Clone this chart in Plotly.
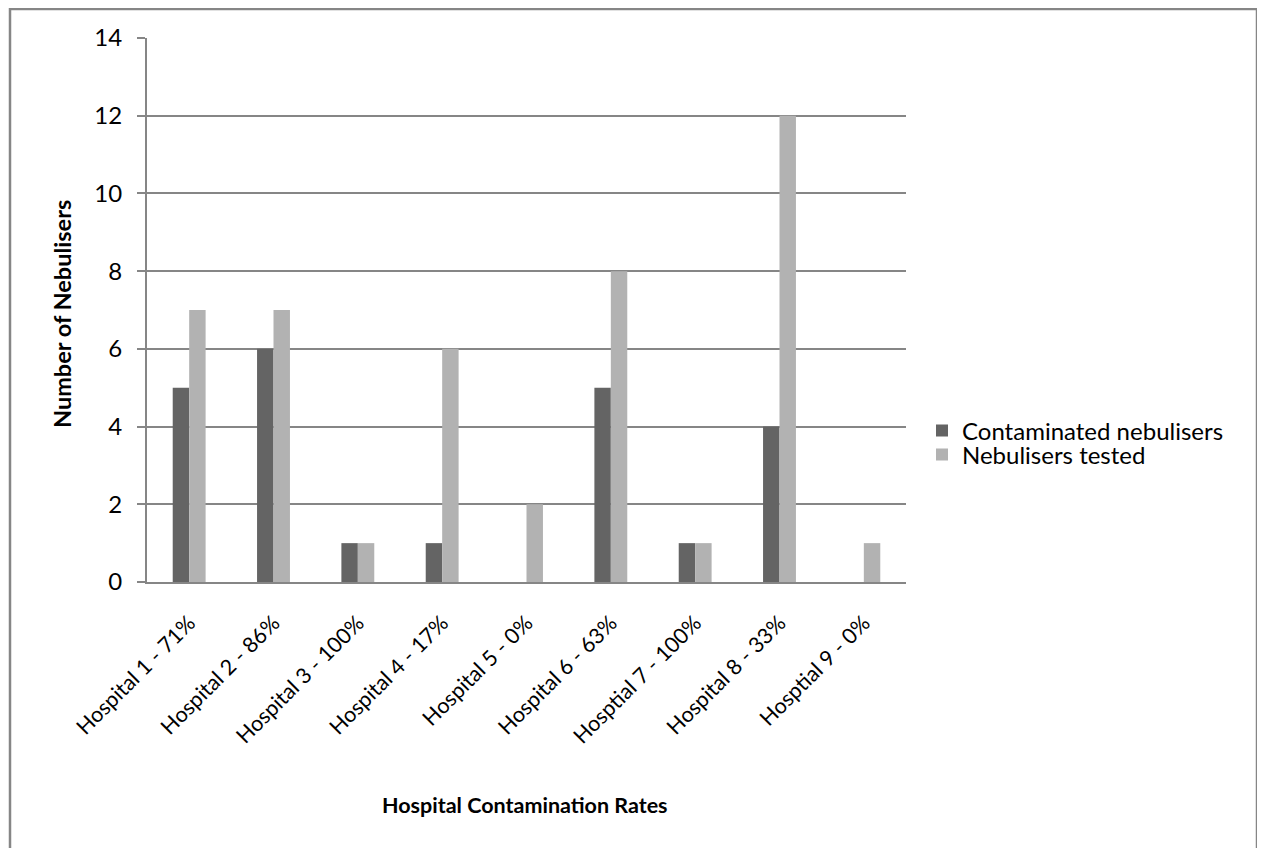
import plotly.graph_objects as go

categories = ["Hospital 1 - 71%", "Hospital 2 - 86%", "Hospital 3 - 100%", "Hospital 4 - 17%",
              "Hospital 5 - 0%", "Hospital 6 - 63%", "Hosptial 7 - 100%", "Hospital 8 - 33%",
              "Hosptial 9 - 0%"]
contaminated = [5, 6, 1, 1, 0, 5, 1, 4, 0]
tested = [7, 7, 1, 6, 2, 8, 1, 12, 1]
y_ticks = [0, 2, 4, 6, 8, 10, 12, 14]

FONT = "Lato"
OFF = 8  # page body margin
W, H = 1265 - OFF, 848 - OFF
# plot area in page pixels
L, R, T, B = 147, 906, 38, 582
pw, ph = R - L, B - T

def px(x):
    return (x - L) / pw

def py(y):
    return (B - y) / ph

fig = go.Figure()
fig.add_trace(go.Bar(name="Contaminated nebulisers", x=categories, y=contaminated,
                     marker=dict(color="#646464", line=dict(width=0)), legend="legend"))
fig.add_trace(go.Bar(name="Nebulisers tested", x=categories, y=tested,
                     marker=dict(color="#b2b2b2", line=dict(width=0)), legend="legend2"))

leg_common = dict(xanchor="left", yanchor="middle", font=dict(family=FONT, size=24, color="black"),
                  itemwidth=30, bgcolor="rgba(0,0,0,0)")

fig.update_layout(
    width=W, height=H,
    margin=dict(l=L - OFF, r=W + OFF - R, t=T - OFF, b=H + OFF - B),
    paper_bgcolor="white", plot_bgcolor="white",
    barmode="group", bargap=0.61, bargroupgap=0,
    font=dict(family=FONT, size=22, color="black"),
    showlegend=True,
    legend=dict(x=px(922), y=py(431), **leg_common),
    legend2=dict(x=px(922), y=py(455), **leg_common),
    xaxis=dict(tickangle=-45, showgrid=False, showline=True, linecolor="#868686", linewidth=2,
               ticks="", tickfont=dict(family=FONT, size=21.5), ticklabelstandoff=18,
               zeroline=False),
    yaxis=dict(range=[0, 14], tickvals=y_ticks, showgrid=True, gridcolor="#868686", gridwidth=1.5,
               showline=True, linecolor="#868686", linewidth=2, ticks="outside", ticklen=8,
               tickcolor="#868686", tickwidth=2, tickfont=dict(family=FONT, size=24),
               ticklabelstandoff=10, zeroline=False),
    annotations=[
        dict(text="<b>Number of Nebulisers</b>", x=px(62), y=py(314), xref="paper", yref="paper",
             textangle=-90, showarrow=False, font=dict(family=FONT, size=23.5),
             xanchor="center", yanchor="middle"),
        dict(text="<b>Hospital Contamination Rates</b>", x=px(525), y=py(805), xref="paper",
             yref="paper", showarrow=False, font=dict(family=FONT, size=21.5),
             xanchor="center", yanchor="middle"),
    ],
    shapes=[
        dict(type="rect", xref="paper", yref="paper", x0=px(10), x1=px(1257), y0=py(880),
             y1=py(9), line=dict(color="#868686", width=2.5), fillcolor="rgba(0,0,0,0)",
             layer="below"),
    ],
)

fig.write_html("out.html")
